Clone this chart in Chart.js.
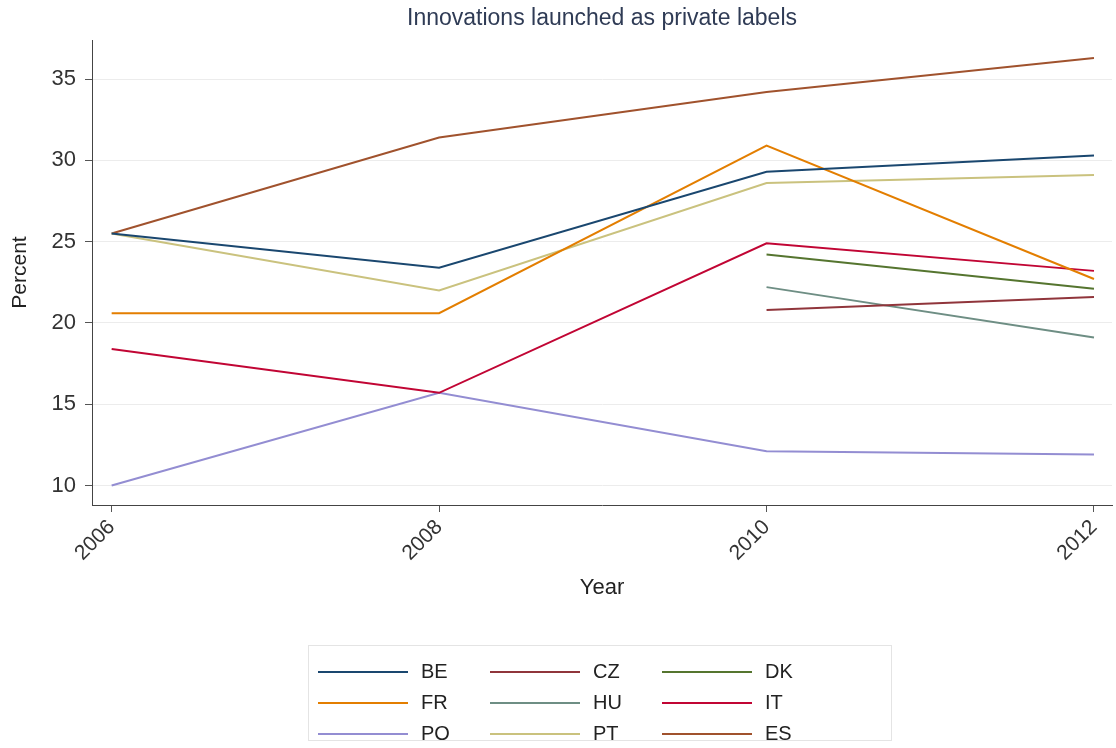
<!DOCTYPE html>
<html>
<head>
<meta charset="utf-8">
<script src="https://cdn.jsdelivr.net/npm/chart.js@4"></script>
<style>
  html, body { margin: 0; padding: 0; background: #fff; }
  #wrap { position: relative; width: 1116px; height: 748px; }
  #legend {
    position: absolute; left: 308px; top: 645px; width: 584px; height: 96px;
    border: 1px solid #e4e4e4; box-sizing: border-box;
    display: grid; grid-template-columns: 172px 172px 172px; grid-auto-rows: 31px;
    padding: 10px 0 0 9px;
    font-family: "Liberation Sans", Arial, sans-serif; font-size: 20px; color: #222;
  }
  .item { display: flex; align-items: center; }
  .swatch { width: 90px; height: 2px; margin-right: 13px; }
</style>
</head>
<body>
<div id="wrap">
  <canvas id="chart" width="1116" height="748"></canvas>
  <div id="legend"></div>
</div>
<script>
const years = [2006, 2008, 2010, 2012];
const yTicks = [10, 15, 20, 25, 30, 35];

const countries = ['BE', 'CZ', 'DK', 'FR', 'HU', 'IT', 'PO', 'PT', 'ES'];
const BE = [25.5, 23.4, 29.3, 30.3];
const CZ = [null, null, 20.8, 21.6];
const DK = [null, null, 24.2, 22.1];
const FR = [20.6, 20.6, 30.9, 22.7];
const HU = [null, null, 22.2, 19.1];
const IT = [18.4, 15.7, 24.9, 23.2];
const PO = [10.0, 15.7, 12.1, 11.9];
const PT = [25.5, 22.0, 28.6, 29.1];
const ES = [25.5, 31.4, 34.2, 36.3];

const seriesValues = [BE, CZ, DK, FR, HU, IT, PO, PT, ES];
const colors = ['#1a476f', '#90353b', '#55752f', '#e37e00', '#6e8e84', '#c10534', '#938dd2', '#cac27e', '#a0522d'];
const titleText = 'Innovations launched as private labels';

const font = '"Liberation Sans", Arial, sans-serif';

const datasets = countries.map((name, i) => ({
    label: name,
    data: years.map((yr, j) => ({ x: yr, y: seriesValues[i][j] })).filter(p => p.y !== null),
    borderColor: colors[i],
    backgroundColor: colors[i],
    borderWidth: 2,
    pointRadius: 0,
    tension: 0
}));

// title centred over the plot area rather than the whole canvas
const plotTitle = {
    id: 'plotTitle',
    afterDraw(chart) {
        const c = chart.ctx;
        const a = chart.chartArea;
        c.save();
        c.font = '23px ' + font;
        c.fillStyle = '#2f3b55';
        c.textAlign = 'center';
        c.textBaseline = 'middle';
        c.fillText(titleText, (a.left + a.right) / 2, 19);
        c.restore();
    }
};

const ctx = document.getElementById('chart').getContext('2d');

new Chart(ctx, {
    type: 'line',
    data: { datasets: datasets },
    options: {
        responsive: false,
        animation: false,
        layout: { padding: { left: 0, right: 4, top: 40, bottom: 143 } },
        plugins: {
            legend: { display: false },
            tooltip: { enabled: false },
            title: { display: false }
        },
        scales: {
            x: {
                type: 'linear',
                min: 2005.88,
                max: 2012.11,
                afterBuildTicks: function(scale) {
                    scale.ticks = years.map(v => ({ value: v }));
                },
                afterFit: function(scale) { scale.height = 100; },
                ticks: {
                    minRotation: 45, maxRotation: 45,
                    color: '#333',
                    font: { family: font, size: 21 },
                    padding: 3,
                    callback: v => String(v)
                },
                grid: { drawOnChartArea: false, drawTicks: true, tickLength: 7, tickColor: '#555' },
                border: { color: '#444', width: 1 },
                title: {
                    display: true, text: 'Year', color: '#222',
                    font: { family: font, size: 22 },
                    padding: { top: 4, bottom: 4 }
                }
            },
            y: {
                min: 8.8,
                max: 37.4,
                afterBuildTicks: function(scale) {
                    scale.ticks = yTicks.map(v => ({ value: v }));
                },
                afterFit: function(scale) { scale.width = 92; },
                ticks: {
                    color: '#333',
                    font: { family: font, size: 22 },
                    padding: 9
                },
                grid: { color: '#ececec', tickColor: '#555', tickLength: 7 },
                border: { color: '#444', width: 1 },
                title: {
                    display: true, text: 'Percent', color: '#222',
                    font: { family: font, size: 21 },
                    padding: { top: 8, bottom: 4 }
                }
            }
        }
    },
    plugins: [plotTitle]
});

const legend = document.getElementById('legend');
countries.forEach((name, i) => {
    const item = document.createElement('div');
    item.className = 'item';
    const sw = document.createElement('span');
    sw.className = 'swatch';
    sw.style.background = colors[i];
    const lab = document.createElement('span');
    lab.textContent = name;
    item.appendChild(sw);
    item.appendChild(lab);
    legend.appendChild(item);
});
</script>
</body>
</html>
